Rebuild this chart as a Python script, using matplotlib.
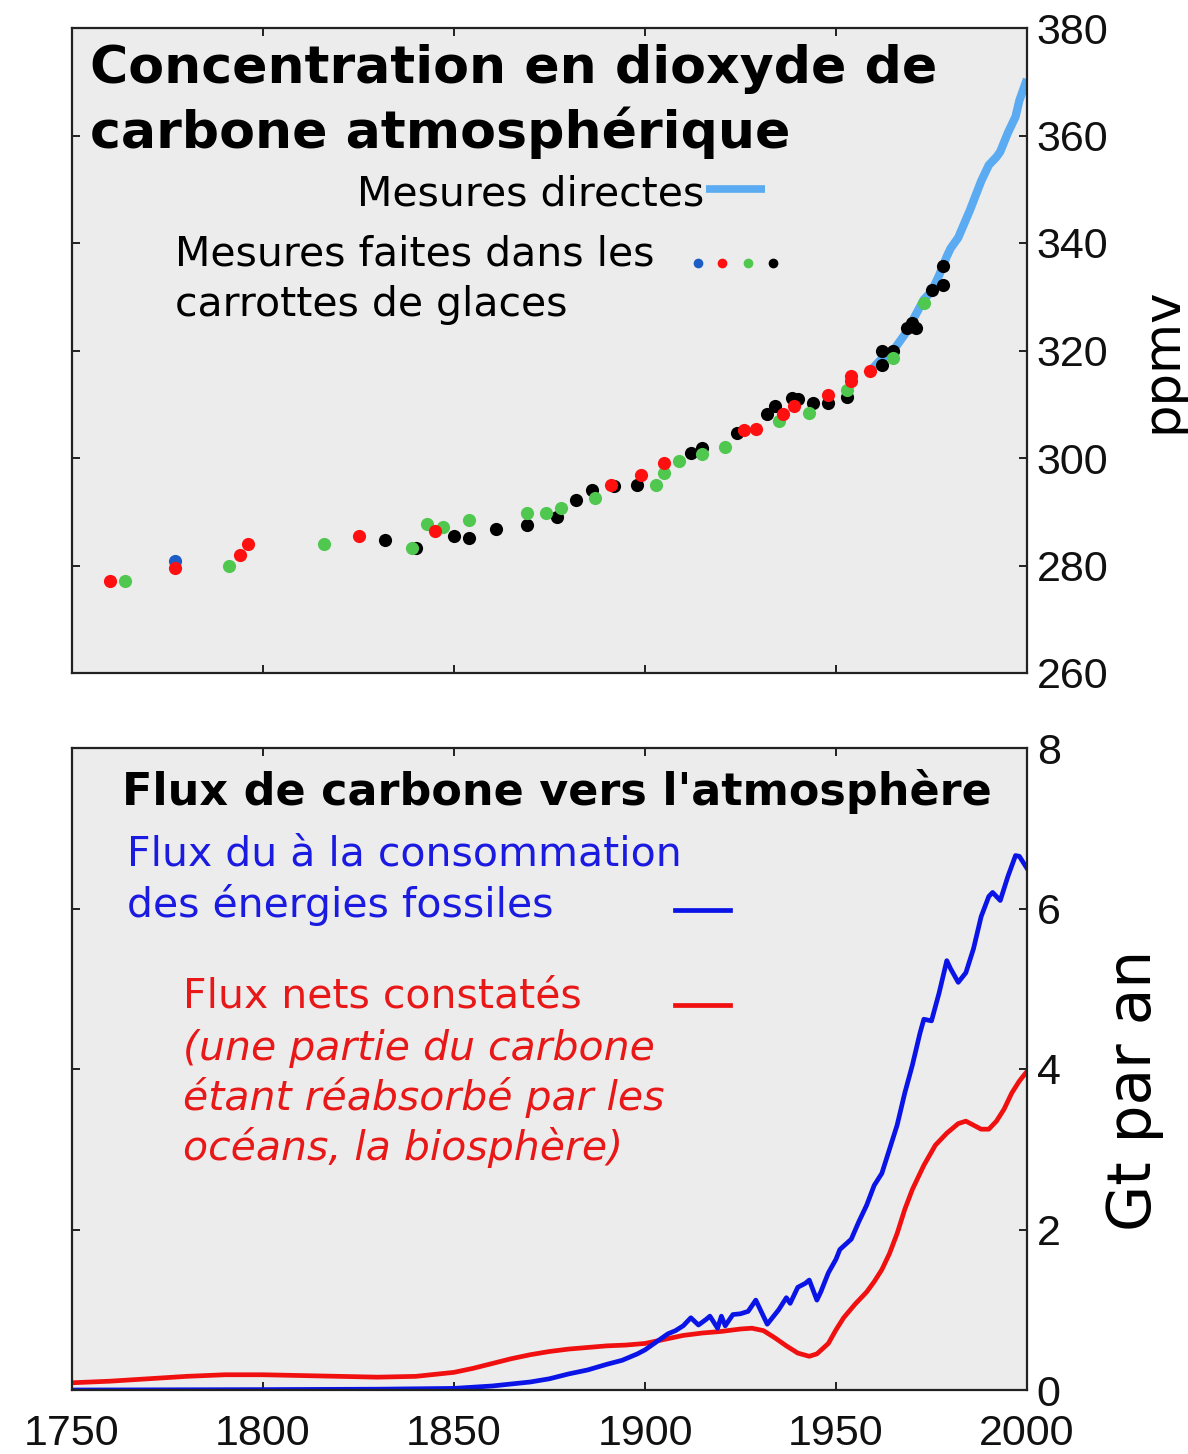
import matplotlib
matplotlib.use('Agg')
import matplotlib.pyplot as plt
import numpy as np

# Direct atmospheric measurements (ppmv)
direct_years = [1958, 1960, 1962, 1965, 1968, 1970, 1973, 1975, 1977, 1979, 1980, 1982,
                1985, 1988, 1990, 1992, 1993, 1995, 1997, 1998, 2000]
direct_ppmv = [315.5, 317, 318.5, 320, 323, 325.5, 329.5, 331, 334, 337.5, 339, 341,
               346, 351.5, 354.5, 356, 357, 360.5, 363.5, 366.5, 370.5]

# Ice core measurements, one list per core (year, ppmv)
core_blue_years = [1777]
core_blue_ppmv = [280.8]

core_red_years = [1760, 1777, 1794, 1796, 1825, 1845, 1891, 1899, 1905, 1926, 1929,
                  1936, 1939, 1948, 1954, 1954, 1959]
core_red_ppmv = [277.1, 279.5, 282, 284, 285.5, 286.4, 295, 296.8, 299.1, 305.2, 305.4,
                 308.2, 309.7, 311.7, 314.3, 315.3, 316.2]

core_green_years = [1764, 1791, 1816, 1839, 1843, 1847, 1854, 1869, 1874, 1878, 1887,
                    1903, 1905, 1909, 1915, 1921, 1935, 1943, 1953, 1965, 1973]
core_green_ppmv = [277.1, 280, 284, 283.3, 287.7, 287.2, 288.5, 289.8, 289.8, 290.7, 292.6,
                   295, 297.2, 299.4, 300.7, 302, 306.9, 308.4, 312.6, 318.6, 328.8]

core_black_years = [1832, 1840, 1850, 1854, 1861, 1869, 1877, 1882, 1886, 1892, 1898,
                    1912, 1915, 1924, 1932, 1934, 1938.5, 1940, 1944, 1948, 1953,
                    1962, 1962, 1965, 1968.6, 1970, 1971, 1975, 1978, 1978]
core_black_ppmv = [284.8, 283.3, 285.5, 285.1, 286.8, 287.5, 289, 292.2, 294.1, 294.8, 295,
                   300.9, 301.8, 304.6, 308.2, 309.7, 311.2, 311, 310.2, 310.2, 311.3,
                   317.3, 319.9, 319.9, 324.2, 325.1, 324.2, 331.2, 332.2, 335.7]

# Carbon fluxes (Gt per year)
fossil_years = [1750, 1800, 1830, 1850, 1860, 1870, 1875, 1880, 1885, 1890, 1894, 1898,
                1900, 1903, 1906, 1908, 1910, 1912, 1914, 1916, 1917, 1919, 1920, 1921,
                1923, 1925, 1927, 1929, 1932, 1935, 1937, 1938, 1940, 1942, 1943, 1945,
                1946, 1948, 1950, 1951, 1954, 1956, 1958, 1960, 1962, 1964, 1966, 1968,
                1970, 1972, 1973, 1975, 1977, 1979, 1980, 1982, 1984, 1986, 1988, 1990,
                1991, 1993, 1995, 1997, 1998, 2000]
fossil_flux = [0.0, 0.005, 0.01, 0.02, 0.05, 0.1, 0.14, 0.2, 0.25, 0.32, 0.37, 0.45,
               0.5, 0.6, 0.7, 0.74, 0.8, 0.9, 0.81, 0.88, 0.92, 0.77, 0.92, 0.8,
               0.94, 0.95, 0.98, 1.12, 0.82, 1.0, 1.15, 1.08, 1.28, 1.33, 1.37, 1.12,
               1.22, 1.46, 1.63, 1.75, 1.88, 2.1, 2.3, 2.55, 2.7, 3.0, 3.3, 3.7,
               4.05, 4.45, 4.62, 4.6, 4.95, 5.35, 5.25, 5.08, 5.2, 5.5, 5.9, 6.15,
               6.2, 6.1, 6.4, 6.66, 6.65, 6.5]

net_years = [1750, 1760, 1770, 1780, 1790, 1800, 1810, 1820, 1830, 1840, 1850, 1855,
             1860, 1865, 1870, 1875, 1880, 1885, 1890, 1895, 1900, 1905, 1910, 1915,
             1920, 1925, 1928, 1931, 1934, 1937, 1940, 1943, 1945, 1948, 1950, 1952,
             1955, 1958, 1960, 1962, 1964, 1966, 1968, 1970, 1973, 1976, 1979, 1982,
             1984, 1986, 1988, 1990, 1992, 1994, 1996, 1998, 2000]
net_flux = [0.09, 0.11, 0.14, 0.17, 0.19, 0.19, 0.18, 0.17, 0.16, 0.17, 0.22, 0.27,
            0.33, 0.39, 0.44, 0.48, 0.51, 0.53, 0.55, 0.56, 0.58, 0.63, 0.68, 0.71,
            0.73, 0.76, 0.77, 0.74, 0.65, 0.55, 0.46, 0.42, 0.45, 0.58, 0.75, 0.9,
            1.07, 1.22, 1.35, 1.5, 1.7, 1.95, 2.25, 2.5, 2.8, 3.05, 3.2, 3.32,
            3.35, 3.3, 3.25, 3.25, 3.35, 3.5, 3.7, 3.85, 3.97]

x_ticks = [1750, 1800, 1850, 1900, 1950, 2000]
ppmv_ticks = [260, 280, 300, 320, 340, 360, 380]
flux_ticks = [0, 2, 4, 6, 8]

light_blue = '#5aabf2'
c_blue = '#1c5cc4'
c_red = '#ff1010'
c_green = '#50c850'
bg = '#ececec'
tick_font = ['Liberation Sans', 'DejaVu Sans']

fig = plt.figure(figsize=(11.88, 14.54), dpi=100)
ax1 = fig.add_axes([72 / 1188, 1 - 673 / 1454, 955 / 1188, 645 / 1454])
ax2 = fig.add_axes([72 / 1188, 1 - 1390 / 1454, 955 / 1188, 642 / 1454])

for ax in (ax1, ax2):
    ax.set_facecolor(bg)
    for s in ax.spines.values():
        s.set_linewidth(1.6)
        s.set_color('#222222')
    ax.set_xlim(1750, 2000)
    ax.set_xticks(x_ticks)
    ax.tick_params(direction='in', length=6, width=1.3, top=True, bottom=True,
                   left=True, right=True, labelleft=False, labelright=True,
                   labelsize=31, pad=7, colors='#111111')

# --- top panel: CO2 concentration
ax1.plot(direct_years, direct_ppmv, color=light_blue, lw=6, solid_capstyle='butt', zorder=2)
ms = 90
ax1.scatter(core_blue_years, core_blue_ppmv, s=ms, color=c_blue, zorder=3, lw=0)
ax1.scatter(core_black_years, core_black_ppmv, s=ms, color='black', zorder=3, lw=0)
ax1.scatter(core_green_years, core_green_ppmv, s=ms, color=c_green, zorder=4, lw=0)
ax1.scatter(core_red_years, core_red_ppmv, s=ms, color=c_red, zorder=5, lw=0)
ax1.set_ylim(260, 380)
ax1.set_yticks(ppmv_ticks)
ax1.tick_params(labelbottom=False)
for lab in ax1.get_yticklabels():
    lab.set_family(tick_font)

def ax1x(px):
    return (px - 72) / 955

def ax1y(py):
    return (673 - py) / 645

ax1.text(ax1x(90), ax1y(83), 'Concentration en dioxyde de', transform=ax1.transAxes,
         fontsize=37.5, fontweight='bold', va='baseline', ha='left')
ax1.text(ax1x(90), ax1y(148), 'carbone atmosphérique', transform=ax1.transAxes,
         fontsize=37.5, fontweight='bold', va='baseline', ha='left')
ax1.text(ax1x(704), ax1y(205), 'Mesures directes', transform=ax1.transAxes,
         fontsize=29.5, va='baseline', ha='right')
ax1.plot([ax1x(706), ax1x(765)], [ax1y(189), ax1y(189)], transform=ax1.transAxes,
         color=light_blue, lw=5.5, solid_capstyle='butt')
ax1.text(ax1x(175), ax1y(266), 'Mesures faites dans les', transform=ax1.transAxes,
         fontsize=29.5, va='baseline', ha='left')
ax1.text(ax1x(175), ax1y(316), 'carrottes de glaces', transform=ax1.transAxes,
         fontsize=29.5, va='baseline', ha='left')
for px, col in zip([698, 722, 748, 773], [c_blue, c_red, c_green, 'black']):
    ax1.plot([ax1x(px)], [ax1y(263)], 'o', transform=ax1.transAxes, color=col,
             ms=7, mec='none')

fig.text(1162 / 1188, 1 - 360 / 1454, 'ppmv', rotation=90, fontsize=37,
         ha='center', va='center')

# --- bottom panel: carbon fluxes
ax2.plot(net_years, net_flux, color='#f01010', lw=3.4)
ax2.plot(fossil_years, fossil_flux, color='#0a14e6', lw=3.4)
ax2.set_ylim(0, 8)
ax2.set_yticks(flux_ticks)
ax2.tick_params(axis='x', pad=17)
for lab in ax2.get_xticklabels() + ax2.get_yticklabels():
    lab.set_family(tick_font)

def ax2x(px):
    return (px - 72) / 955

def ax2y(py):
    return (1390 - py) / 642

ax2.text(ax2x(557), ax2y(805), "Flux de carbone vers l'atmosphère", transform=ax2.transAxes,
         fontsize=32, fontweight='bold', va='baseline', ha='center')
ax2.text(ax2x(127), ax2y(866), 'Flux du à la consommation', transform=ax2.transAxes,
         fontsize=29.5, color='#1a1ae0', va='baseline', ha='left')
ax2.text(ax2x(127), ax2y(917), 'des énergies fossiles', transform=ax2.transAxes,
         fontsize=29.5, color='#1a1ae0', va='baseline', ha='left')
ax2.plot([ax2x(675), ax2x(730)], [ax2y(910), ax2y(910)], transform=ax2.transAxes,
         color='#0a14e6', lw=3.4)
ax2.text(ax2x(183), ax2y(1008), 'Flux nets constatés', transform=ax2.transAxes,
         fontsize=29.5, color='#e81818', va='baseline', ha='left')
for i, line in enumerate(['(une partie du carbone', 'étant réabsorbé par les',
                          'océans, la biosphère)']):
    ax2.text(ax2x(183), ax2y(1060 + 50 * i), line, transform=ax2.transAxes,
             fontsize=29.5, style='italic', color='#e81818', va='baseline', ha='left')
ax2.plot([ax2x(675), ax2x(730)], [ax2y(1005), ax2y(1005)], transform=ax2.transAxes,
         color='#f01010', lw=3.4)

fig.text(1135 / 1188, 1 - 1090 / 1454, 'Gt par an', rotation=90, fontsize=43,
         ha='center', va='center')

plt.savefig('out.png', dpi=100)
